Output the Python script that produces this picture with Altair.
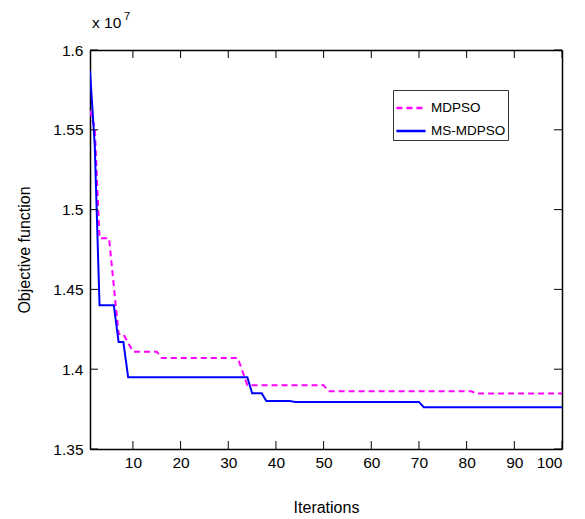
import altair as alt
import pandas as pd

series_names = ["MDPSO", "MS-MDPSO"]
iter_mdpso = [1, 2, 3, 5, 7, 8, 10, 15, 16, 32, 34, 50, 51, 81, 82, 100]
val_mdpso = [1.562, 1.551, 1.482, 1.482, 1.422, 1.422, 1.411, 1.411, 1.407, 1.407,
             1.390, 1.390, 1.3862, 1.3862, 1.3848, 1.3848]
iter_ms = [1, 2, 3, 6, 7, 8, 9, 34, 35, 37, 38, 43, 44, 70, 71, 100]
val_ms = [1.587, 1.54, 1.44, 1.44, 1.417, 1.417, 1.395, 1.395, 1.385, 1.385,
          1.380, 1.380, 1.3795, 1.3795, 1.3762, 1.3762]
x_ticks = [10, 20, 30, 40, 50, 60, 70, 80, 90, 100]
y_ticks = [1.35, 1.4, 1.45, 1.5, 1.55, 1.6]

df = pd.concat([
    pd.DataFrame({"iter": iter_mdpso, "val": val_mdpso, "series": series_names[0]}),
    pd.DataFrame({"iter": iter_ms, "val": val_ms, "series": series_names[1]}),
])
xt_df = pd.DataFrame({"iter": x_ticks})
yt_df = pd.DataFrame({"val": y_ticks})

FONT = "Liberation Sans"
W, H = 472, 399
xscale = alt.Scale(domain=[1, 100], nice=False, zero=False)
yscale = alt.Scale(domain=[1.35, 1.6], nice=False, zero=False)

leg = dict(title=None, orient="none", legendX=303, legendY=40, strokeColor="#333333",
           padding=2, fillColor="white", symbolType="stroke", symbolSize=850,
           symbolStrokeWidth=2.5, labelFont=FONT, labelFontSize=13.5, labelColor="black",
           rowPadding=0, labelOffset=4)

lines = alt.Chart(df).mark_line(strokeWidth=2, clip=True).encode(
    x=alt.X("iter:Q", scale=xscale,
            axis=alt.Axis(values=x_ticks, ticks=False, domain=True, domainColor="black",
                          domainWidth=1.5, labelPadding=6, title="Iterations",
                          titlePadding=29, labelColor="black", titleColor="black",
                          labelFont=FONT, labelFontSize=15.5, titleFont=FONT,
                          titleFontSize=16, titleFontWeight="normal", grid=False)),
    y=alt.Y("val:Q", scale=yscale,
            axis=alt.Axis(values=y_ticks, format=".3~g", ticks=False, domain=True,
                          domainColor="black", domainWidth=1.5, labelPadding=7,
                          title="Objective function", titlePadding=20,
                          labelColor="black", titleColor="black", labelFont=FONT,
                          labelFontSize=15.5, titleFont=FONT, titleFontSize=16,
                          titleFontWeight="normal", grid=False)),
    color=alt.Color("series:N",
                    scale=alt.Scale(domain=series_names, range=["#ff00ff", "#0000ff"]),
                    legend=alt.Legend(**leg)),
    strokeDash=alt.StrokeDash("series:N",
                              scale=alt.Scale(domain=series_names, range=[[6, 4], [1, 0]]),
                              legend=alt.Legend(**leg)),
)

mirror = alt.Chart(df).mark_line(opacity=0).encode(
    x=alt.X("iter:Q", scale=xscale,
            axis=alt.Axis(orient="top", values=x_ticks, ticks=False, labels=False,
                          domain=True, domainColor="black", domainWidth=1.5,
                          title=None, grid=False)),
    y=alt.Y("val:Q", scale=yscale,
            axis=alt.Axis(orient="right", values=y_ticks, ticks=False, labels=False,
                          domain=True, domainColor="black", domainWidth=1.5,
                          title=None, grid=False)),
)

tick_style = dict(color="black", strokeWidth=1)
xt_bottom = alt.Chart(xt_df).mark_rule(**tick_style).encode(
    x=alt.X("iter:Q", scale=xscale, axis=None), y=alt.value(H), y2=alt.value(H - 8))
xt_top = alt.Chart(xt_df).mark_rule(**tick_style).encode(
    x=alt.X("iter:Q", scale=xscale, axis=None), y=alt.value(0), y2=alt.value(8))
yt_left = alt.Chart(yt_df).mark_rule(**tick_style).encode(
    y=alt.Y("val:Q", scale=yscale, axis=None), x=alt.value(0), x2=alt.value(8))
yt_right = alt.Chart(yt_df).mark_rule(**tick_style).encode(
    y=alt.Y("val:Q", scale=yscale, axis=None), x=alt.value(W), x2=alt.value(W - 8))

exp_main = alt.Chart(pd.DataFrame({"t": ["x 10"]})).mark_text(
    align="left", baseline="middle", font=FONT, fontSize=15.5, color="black"
).encode(x=alt.value(2), y=alt.value(-27), text="t:N")
exp_sup = alt.Chart(pd.DataFrame({"t": ["7"]})).mark_text(
    align="left", baseline="middle", font=FONT, fontSize=11, color="black"
).encode(x=alt.value(34), y=alt.value(-33), text="t:N")

chart = alt.layer(lines, mirror, xt_bottom, xt_top, yt_left, yt_right,
                  exp_main, exp_sup).resolve_axis(
    x="independent", y="independent"
).properties(
    width=W, height=H, autosize="none",
    padding={"left": 82, "top": 42, "right": 15, "bottom": 69},
).configure_view(stroke="black", strokeWidth=1.5).configure(background="white")

chart.save("out.html", embed_options={"renderer": "svg", "actions": False})
